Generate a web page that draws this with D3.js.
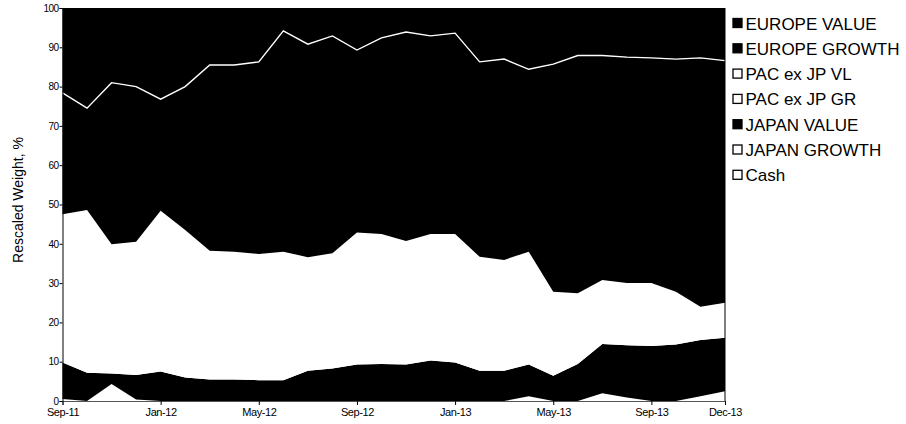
<!DOCTYPE html>
<html>
<head>
<meta charset="utf-8">
<script src="https://cdn.jsdelivr.net/npm/d3@7/dist/d3.min.js"></script>
<style>
  html, body { margin: 0; padding: 0; background: #fff; }
  svg { display: block; }
  text { font-family: "Liberation Sans", Arial, sans-serif; fill: #000; }
</style>
</head>
<body>
<svg id="chart" width="906" height="424"></svg>
<script>
const months = ["Sep-11","Oct-11","Nov-11","Dec-11","Jan-12","Feb-12","Mar-12","Apr-12","May-12","Jun-12","Jul-12","Aug-12",
  "Sep-12","Oct-12","Nov-12","Dec-12","Jan-13","Feb-13","Mar-13","Apr-13","May-13","Jun-13","Jul-13","Aug-13","Sep-13","Oct-13","Nov-13","Dec-13"];
const tickLabels = ["Sep-11","Jan-12","May-12","Sep-12","Jan-13","May-13","Sep-13","Dec-13"];
const yTicks = [0,10,20,30,40,50,60,70,80,90,100];

const cash        = [0.5,0,0,0,0,0,0,0,0,0,0,0,0,0,0,0,0,0,0,0,0,0,0,0,0,0,0,0];
const japanGrowth = [0,0,4.3,0.4,0,0,0,0,0,0,0,0,0,0,0,0,0,0,0,1.2,0,0,2.0,0.9,0,0,1.2,2.5];
const japanValue  = [9.3,7.2,2.7,6.2,7.5,6.0,5.5,5.5,5.3,5.3,7.7,8.3,9.3,9.4,9.3,10.3,9.8,7.7,7.7,8.1,6.4,9.4,12.5,13.3,14.0,14.4,14.3,13.6];
const pacGrowth   = [20.7,22.8,18.1,18.6,22.5,20.6,18.0,17.9,17.7,18.0,15.9,16.1,18.5,18.2,17.3,17.7,18.0,16.0,15.5,15.8,11.8,9.9,9.0,8.7,8.8,7.4,4.7,4.9];
const pacValue    = [17.0,18.6,14.8,15.3,18.4,16.9,14.7,14.6,14.4,14.7,13.0,13.2,15.1,14.9,14.1,14.5,14.7,13.0,12.7,12.9,9.6,8.1,7.3,7.1,7.2,6.0,3.8,4.0];
const europeGrowth= [30.9,25.9,41.1,39.5,28.4,36.5,47.3,47.5,48.9,56.2,54.2,55.3,46.4,49.9,53.2,50.4,51.1,49.6,51.1,46.4,57.9,60.5,57.1,57.5,57.3,59.2,63.3,61.6];
const europeValue = [21.6,25.5,19.0,20.0,23.2,20.0,14.5,14.5,13.7,5.8,9.2,7.1,10.7,7.6,6.1,7.1,6.4,13.7,13.0,15.6,14.3,12.1,12.1,12.5,12.7,13.0,12.7,13.4];

// stacking order (bottom -> top)
const seriesNames = ["Cash","JAPAN GROWTH","JAPAN VALUE","PAC ex JP GR","PAC ex JP VL","EUROPE GROWTH","EUROPE VALUE"];
const seriesValues = [cash, japanGrowth, japanValue, pacGrowth, pacValue, europeGrowth, europeValue];
const seriesFill = ["#fff","#fff","#000","#fff","#fff","#000","#000"];

const rows = months.map((m, i) => {
  const r = { month: m, idx: i };
  seriesNames.forEach((n, k) => r[n] = seriesValues[k][i]);
  return r;
});

const svg = d3.select("#chart");
const plotL = 62.5, plotR = 725, plotT = 8, plotB = 401;

const x = d3.scaleLinear().domain([0, months.length - 1]).range([plotL, plotR]);
const y = d3.scaleLinear().domain([0, 100]).range([plotB, plotT]);

const stacked = d3.stack().keys(seriesNames)(rows);

const area = d3.area()
  .x(d => x(d.data.idx))
  .y0(d => y(d[0]))
  .y1(d => y(d[1]));

svg.append("g").selectAll("path")
  .data(stacked)
  .join("path")
  .attr("d", area)
  .attr("fill", (d, i) => seriesFill[i])
  .attr("stroke", "none");

// white boundary between EUROPE GROWTH and EUROPE VALUE
const egTop = d3.line()
  .x(d => x(d.data.idx))
  .y(d => y(d[1]));
svg.append("path")
  .attr("d", egTop(stacked[5]))
  .attr("fill", "none")
  .attr("stroke", "#fff")
  .attr("stroke-width", 1.4);

// right border
svg.append("line")
  .attr("x1", plotR).attr("x2", plotR)
  .attr("y1", y(0)).attr("y2", y(100))
  .attr("stroke", "#000").attr("stroke-width", 1);

// Y axis
const yAxis = d3.axisLeft(y).tickValues(yTicks).tickSize(3).tickPadding(1).tickFormat(d3.format("d"));
const gy = svg.append("g").attr("transform", `translate(${plotL},0)`).call(yAxis);
gy.select(".domain").attr("stroke", "#000");
gy.selectAll("text").attr("font-size", 10).attr("letter-spacing", "-0.6px")
  .style("font-family", "'Liberation Sans', Arial, sans-serif");

// X axis
const tickIdx = tickLabels.map(t => months.indexOf(t));
const xAxis = d3.axisBottom(x).tickValues(tickIdx).tickSize(4).tickPadding(3)
  .tickFormat(i => months[i]);
const gx = svg.append("g").attr("transform", `translate(0,${plotB})`).call(xAxis);
gx.select(".domain").attr("stroke", "#555");
gx.selectAll("text").attr("font-size", 11).attr("letter-spacing", "-0.4px")
  .style("font-family", "'Liberation Sans', Arial, sans-serif");

// Y axis title
svg.append("text")
  .attr("transform", "translate(22.5,200) rotate(-90)")
  .attr("text-anchor", "middle")
  .attr("font-size", 14)
  .text("Rescaled Weight, %");

// Legend (top entry = top of stack)
const legendOrder = ["EUROPE VALUE","EUROPE GROWTH","PAC ex JP VL","PAC ex JP GR","JAPAN VALUE","JAPAN GROWTH","Cash"];
const lg = svg.append("g").attr("transform", "translate(732,0)");
legendOrder.forEach((name, i) => {
  const k = seriesNames.indexOf(name);
  const cy = 23.5 + i * 25.3;
  lg.append("rect")
    .attr("x", 1).attr("y", cy - 5)
    .attr("width", 9).attr("height", 9)
    .attr("fill", seriesFill[k])
    .attr("stroke", "#000").attr("stroke-width", 1.3);
  lg.append("text")
    .attr("x", 13.5).attr("y", cy + 6)
    .attr("font-size", 17)
    .text(name);
});
</script>
</body>
</html>
